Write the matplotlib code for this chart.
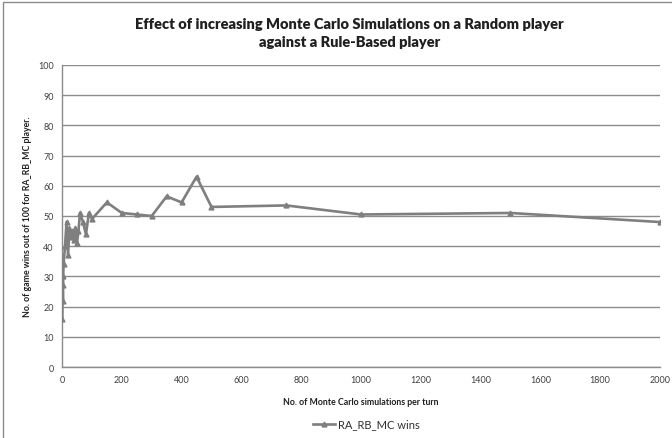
import matplotlib
matplotlib.use("Agg")
import matplotlib.pyplot as plt
from matplotlib.patches import Rectangle

sims = [1, 2, 3, 4, 5, 10, 15, 20, 25, 30, 35, 40, 45, 50, 55, 60, 70, 80, 90, 100,
        150, 200, 250, 300, 350, 400, 450, 500, 750, 1000, 1500, 2000]
wins = [16, 27, 22, 30, 34, 40, 48, 37, 46, 43, 45, 42, 46, 41, 45, 51, 48, 44, 51, 49,
        54.5, 51, 50.5, 50, 56.5, 54.5, 63, 53, 53.5, 50.5, 51, 48]
series_name = "RA_RB_MC wins"
x_ticks = list(range(0, 2001, 200))
y_ticks = list(range(0, 101, 10))

plt.rcParams['font.family'] = ['Lato', 'DejaVu Sans']

fig = plt.figure(figsize=(6.72, 4.39), dpi=100)
ax = fig.add_axes([0.0923, 0.1617, 0.8897, 0.688])

grid_c = '#8c8c8c'
line_c = '#7f7f7f'
ax.plot(sims, wins, color=line_c, lw=1.9, marker='^', ms=3.5, mec=line_c, mfc=line_c,
        label=series_name, zorder=3)

ax.set_xlim(0, 2000)
ax.set_ylim(0, 100)
ax.set_xticks(x_ticks)
ax.set_yticks(y_ticks)
ax.yaxis.grid(True, color=grid_c, lw=1.0)
ax.set_axisbelow(True)
for s in ['top', 'right']:
    ax.spines[s].set_visible(False)
for s in ['left', 'bottom']:
    ax.spines[s].set_color(grid_c)
    ax.spines[s].set_linewidth(1.0)
ax.tick_params(axis='both', length=0, labelsize=6.5, colors='#404040', pad=6)

ax.set_xlabel("No. of Monte Carlo simulations per turn", fontsize=6.3, fontweight='bold',
              color='#202020', labelpad=9)
ax.set_ylabel("No. of game wins out of 100 for RA_RB_MC player.", fontsize=6.3,
              fontweight='bold', color='#202020', labelpad=4)

fig.text(0.52, 0.96, "Effect of increasing Monte Carlo Simulations on a Random player\nagainst a Rule-Based player",
         ha='center', va='top', fontsize=10.5, fontweight='heavy', color='#202020',
         linespacing=1.45)

leg = fig.legend(loc='center', bbox_to_anchor=(0.545, 0.032), frameon=False, fontsize=8,
                 handlelength=2.0, handletextpad=0.2)
for t in leg.get_texts():
    t.set_color('#303030')

fig.patches.append(Rectangle((3 / 672, -0.05), 1.1, 1 - 3 / 439 + 0.05,
                             transform=fig.transFigure, fill=False,
                             edgecolor='#8c8c8c', lw=1.0))

fig.savefig("out.png", dpi=100)
